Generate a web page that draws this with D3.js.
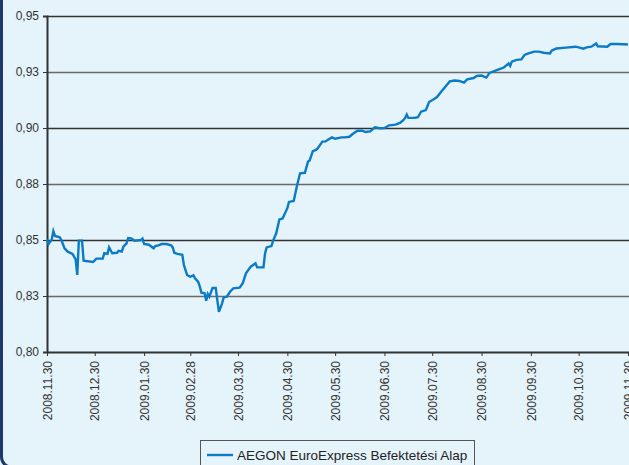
<!DOCTYPE html>
<html>
<head>
<meta charset="utf-8">
<script src="https://cdn.jsdelivr.net/npm/d3@7"></script>
<style>
html,body{margin:0;padding:0;background:#e5f3fa;}
svg{display:block;}
text{font-family:"Liberation Sans",Arial,sans-serif;}
</style>
</head>
<body>
<svg id="chart" width="629" height="465"></svg>
<script>
const seriesName = "AEGON EuroExpress Befektetési Alap";
const dates = [
"2008-11-30","2008-12-01","2008-12-03","2008-12-04","2008-12-05","2008-12-08","2008-12-09","2008-12-11","2008-12-13","2008-12-16",
"2008-12-18","2008-12-19","2008-12-20","2008-12-22","2008-12-23","2008-12-29","2008-12-31","2009-01-04","2009-01-05","2009-01-07",
"2009-01-08","2009-01-10","2009-01-13","2009-01-14","2009-01-16","2009-01-17","2009-01-19","2009-01-20","2009-01-22","2009-01-24",
"2009-01-28","2009-01-29","2009-01-30","2009-02-02","2009-02-05","2009-02-06","2009-02-08","2009-02-10","2009-02-13","2009-02-16",
"2009-02-17","2009-02-18","2009-02-20","2009-02-23","2009-02-24","2009-02-26","2009-02-28","2009-03-02","2009-03-03","2009-03-05",
"2009-03-06","2009-03-07","2009-03-09","2009-03-10","2009-03-11","2009-03-12","2009-03-14","2009-03-16","2009-03-17","2009-03-18",
"2009-03-20","2009-03-21","2009-03-23","2009-03-25","2009-03-27","2009-03-31","2009-04-02","2009-04-04","2009-04-07","2009-04-10",
"2009-04-11","2009-04-15","2009-04-16","2009-04-17","2009-04-20","2009-04-21","2009-04-23","2009-04-25","2009-04-27","2009-04-30",
"2009-05-01","2009-05-04","2009-05-06","2009-05-08","2009-05-11","2009-05-13","2009-05-14","2009-05-16","2009-05-18","2009-05-19",
"2009-05-22","2009-05-24","2009-05-26","2009-05-28","2009-05-30","2009-06-03","2009-06-05","2009-06-08","2009-06-10","2009-06-13",
"2009-06-16","2009-06-18","2009-06-21","2009-06-24","2009-06-27","2009-06-30","2009-07-03","2009-07-07","2009-07-10","2009-07-12",
"2009-07-13","2009-07-14","2009-07-15","2009-07-19","2009-07-21","2009-07-23","2009-07-26","2009-07-28","2009-07-31","2009-08-02",
"2009-08-05","2009-08-07","2009-08-10","2009-08-13","2009-08-16","2009-08-19","2009-08-21","2009-08-25","2009-08-27","2009-08-30",
"2009-09-02","2009-09-04","2009-09-09","2009-09-13","2009-09-16","2009-09-17","2009-09-18","2009-09-21","2009-09-24","2009-09-26",
"2009-09-28","2009-10-02","2009-10-05","2009-10-08","2009-10-12","2009-10-13","2009-10-16","2009-10-22","2009-10-28","2009-10-30",
"2009-11-02","2009-11-04","2009-11-07","2009-11-10","2009-11-11","2009-11-17","2009-11-19","2009-11-23","2009-11-27","2009-11-30"
];
const values = [
0.8503,0.8482,0.8503,0.8539,0.8518,0.8512,0.8500,0.8463,0.8448,0.8438,
0.8414,0.8344,0.8497,0.8497,0.8408,0.8402,0.8417,0.8417,0.8441,0.8438,
0.8467,0.8441,0.8443,0.8452,0.8448,0.8470,0.8485,0.8509,0.8507,0.8497,
0.8500,0.8506,0.8482,0.8479,0.8463,0.8473,0.8476,0.8482,0.8482,0.8476,
0.8467,0.8443,0.8438,0.8434,0.8388,0.8344,0.8336,0.8342,0.8329,0.8313,
0.8292,0.8265,0.8262,0.8229,0.8259,0.8247,0.8286,0.8286,0.8232,0.8179,
0.8217,0.8244,0.8247,0.8269,0.8284,0.8287,0.8307,0.8351,0.8381,0.8396,
0.8378,0.8378,0.8441,0.8467,0.8473,0.8496,0.8530,0.8592,0.8596,0.8642,
0.8670,0.8674,0.8741,0.8798,0.8800,0.8850,0.8855,0.8897,0.8902,0.8909,
0.8939,0.8940,0.8950,0.8958,0.8952,0.8958,0.8958,0.8961,0.8973,0.8988,
0.8988,0.8982,0.8985,0.9003,0.8999,0.9000,0.9012,0.9015,0.9024,0.9036,
0.9045,0.9060,0.9045,0.9045,0.9048,0.9073,0.9080,0.9116,0.9128,0.9138,
0.9165,0.9182,0.9208,0.9212,0.9210,0.9203,0.9217,0.9223,0.9232,0.9234,
0.9225,0.9246,0.9259,0.9270,0.9288,0.9277,0.9296,0.9304,0.9306,0.9326,
0.9332,0.9341,0.9341,0.9336,0.9333,0.9345,0.9355,0.9359,0.9363,0.9360,
0.9354,0.9360,0.9363,0.9377,0.9365,0.9363,0.9375,0.9375,0.9374,0.9373
];
const xTickDates = ["2008-11-30","2008-12-30","2009-01-30","2009-02-28","2009-03-30","2009-04-30","2009-05-30","2009-06-30","2009-07-30","2009-08-30","2009-09-30","2009-10-30","2009-11-30"];
const xTickLabels = ["2008.11.30","2008.12.30","2009.01.30","2009.02.28","2009.03.30","2009.04.30","2009.05.30","2009.06.30","2009.07.30","2009.08.30","2009.09.30","2009.10.30","2009.11.30"];
const yTickValues = [0.80,0.825,0.85,0.875,0.90,0.925,0.95];
const yTickLabels = ["0,80","0,83","0,85","0,88","0,90","0,93","0,95"];

const parse = d3.timeParse("%Y-%m-%d");
const data = dates.map((d,i)=>({date:parse(d), value:values[i]}));

const svg = d3.select("#chart");
const mLeft = 47, mTop = 16, mBottom = 352, mRight = 628;

// frame
svg.append("rect").attr("x",1.5).attr("y",-30).attr("width",700).attr("height",497)
  .attr("rx",10).attr("fill","#e5f3fa").attr("stroke","#1b3a6b").attr("stroke-width",3);

const x = d3.scaleTime().domain([parse(xTickDates[0]), parse(xTickDates[xTickDates.length-1])]).range([mLeft,mRight]);
const y = d3.scaleLinear().domain([0.80,0.95]).range([mBottom,mTop]);

// gridlines
svg.append("g").selectAll("line").data(yTickValues.slice(1)).join("line")
  .attr("x1",mLeft).attr("x2",640)
  .attr("y1",d=>Math.round(y(d))+0.5).attr("y2",d=>Math.round(y(d))+0.5)
  .attr("stroke",(d,i)=> i%2===0 ? "#6a6a6a" : "#333")
  .attr("stroke-width",1.4);

// y axis
const yAxis = svg.append("g").attr("transform",`translate(${mLeft},0)`)
  .call(d3.axisLeft(y).tickValues(yTickValues).tickFormat((d,i)=>yTickLabels[i]).tickSize(4).tickPadding(4));
yAxis.select(".domain").attr("stroke","#333").attr("stroke-width",2);
yAxis.selectAll(".tick line").attr("stroke","#333");
yAxis.selectAll(".tick text").attr("font-size","12px").attr("fill","#333")
  .attr("font-family","'Liberation Sans',Arial,sans-serif");

// x axis
const xAxis = svg.append("g").attr("transform",`translate(0,${mBottom})`)
  .call(d3.axisBottom(x).tickValues(xTickDates.map(parse)).tickFormat((d,i)=>xTickLabels[i]).tickSize(4).tickSizeOuter(0));
xAxis.select(".domain").attr("stroke","#333").attr("stroke-width",2).attr("d",`M${mLeft},0.5H640`);
xAxis.selectAll(".tick line").attr("stroke","#333");
xAxis.selectAll(".tick text")
  .attr("font-size","12px").attr("fill","#333")
  .attr("font-family","'Liberation Sans',Arial,sans-serif")
  .attr("text-anchor","end")
  .attr("transform","rotate(-90)")
  .attr("x",-9).attr("y",0).attr("dy","0.35em");

// line
const line = d3.line().x(d=>x(d.date)).y(d=>y(d.value));
svg.append("path").datum(data).attr("d",line)
  .attr("fill","none").attr("stroke","#0a7bc6").attr("stroke-width",2.4)
  .attr("stroke-linejoin","miter");

// legend
const lg = svg.append("g");
lg.append("rect").attr("x",200.5).attr("y",440.5).attr("width",274).attr("height",40)
  .attr("fill","#e5f3fa").attr("stroke","#555").attr("stroke-width",1);
lg.append("line").attr("x1",207).attr("x2",233).attr("y1",455).attr("y2",455)
  .attr("stroke","#0a7bc6").attr("stroke-width",2.4);
lg.append("text").attr("x",237).attr("y",460).attr("font-size","13.5px").attr("fill","#222")
  .text(seriesName);
</script>
</body>
</html>
